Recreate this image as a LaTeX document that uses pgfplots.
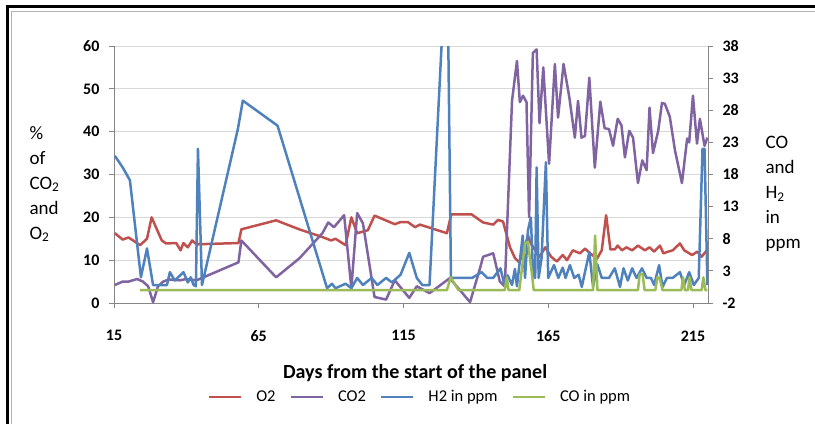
\documentclass[border=0pt]{standalone}
\usepackage{pgfplots}
\pgfplotsset{compat=1.18}
\usepackage{fontspec}
\setmainfont{Carlito}
\definecolor{cO}{HTML}{C0504D}
\definecolor{cC}{HTML}{8064A2}
\definecolor{cH}{HTML}{4F81BD}
\definecolor{cG}{HTML}{9BBB59}
\definecolor{axgray}{HTML}{868686}
\definecolor{grgray}{HTML}{D9D9D9}
\begin{document}
\begin{tikzpicture}
\path[use as bounding box] (0,0) rectangle (815pt,424pt);
\draw[black, line width=3pt] (7pt,0) -- (7pt,417.5pt) -- (815pt,417.5pt);
\draw[gray!60, line width=0.8pt] (11.5pt,0) -- (11.5pt,413pt) -- (815pt,413pt);
\pgfplotsset{
  every axis/.append style={
    scale only axis, width=594pt, height=257pt,
    at={(114pt,121pt)}, anchor=south west,
    xmin=15, xmax=220.2,
    tick align=outside, major tick length=5pt,
    tick style={draw=axgray, line width=0.8pt},
    axis line style={draw=axgray, line width=0.8pt},
    tick label style={font=\fontsize{16}{19}\selectfont\bfseries},
    label style={font=\fontsize{19}{25}\selectfont},
  }
}
\begin{axis}[
  axis x line*=bottom, axis y line*=left,
  ymin=0, ymax=60, ytick={0,10,...,60},
  yticklabels={0,10,20,30,40,50,60},
  xtick={15,65,115,165,215}, xticklabels={15,65,115,165,215},
  ymajorgrids, major grid style={draw=grgray, line width=1pt},
  xticklabel style={yshift=-19pt},
  yticklabel style={xshift=-6pt},
  xlabel={\bfseries Days from the start of the panel},
  xlabel style={font=\fontsize{20}{24}\selectfont, at={(axis description cs:0.507,-0.274)}, anchor=center},
  ylabel={\%\\of\\CO\textsubscript{2}\\and\\O\textsubscript{2}},
  ylabel style={rotate=-90, align=left, at={(axis description cs:-0.148,0.463)}, anchor=west},
  every axis plot/.append style={line width=2.5pt, line join=round},
]
\addplot[cO, mark=none] coordinates {
(15.3,16.3)(18,14.8)(20,15.3)(21.6,14.6)(24,13.5)(26.4,15)(28,20)(31.5,14.6)(33,13.9)(36.5,14)(38,12.3)(39,14)(40.5,13)(42,14.6)(43.5,13.7)(58,14.0)(59,17.2)(71,19.3)(79,17.2)(87,15.4)(90,14.6)(91.5,15)(95,13.5)(97,20)(99,16.3)(102.7,17)(105,20.4)(112,18.4)(114,18.9)(116.5,18.9)(119,17.7)(120.7,18.3)(130,16.3)(131.5,20.7)(138.5,20.7)(142.5,18.8)(146,18.3)(147.7,19.4)(149.4,19)(151.8,13)(153.5,10.5)(155,9.5)(156.5,12)(158,15.8)(159,13.9)(162,10.8)(164,13)(166,10.8)(168,9.7)(170,11.2)(171.5,10)(173.5,12.3)(176,11.6)(177.7,12.7)(179.5,11.6)(181.8,10.3)(183.5,12.3)(185,20.5)(186.5,12.5)(188,12.5)(189,13.4)(190.5,12.3)(192,13)(194,12.3)(196,13.4)(198.4,12.3)(200,13)(201.6,12)(203.6,13.4)(204.8,11.6)(206.5,12)(208,12.3)(210.5,13.9)(212,12.3)(214.7,11.2)(216.5,12)(218,10.8)(219.8,12.3)
};
\addplot[cC, mark=none] coordinates {
(15.3,4.2)(18,5)(20,5)(23,5.6)(25,5)(26.8,3.9)(28.5,0.2)(30.2,3.9)(32,5)(34,5.5)(37.8,5.3)(40,5.6)(43.5,5.3)(58,9.5)(59,14.6)(71,6)(79,10.4)(87,16.3)(89,18.8)(91,17.7)(94.5,20.5)(97,3.5)(99,21)(101,18.6)(105,1.4)(109,0.8)(112,5.3)(117,1.2)(119.6,3.9)(124,2.3)(131,5.8)(138,0.2)(141.4,8)(142.5,10.8)(146,11.6)(148.3,5)(150,3.9)(152.5,47.2)(154.2,56.5)(155.2,46.9)(156.3,48.4)(157.5,46.9)(158.4,20)(159.7,58.4)(161,59.2)(162,42)(163.3,55)(165.3,32.5)(167.3,55.8)(168.4,43.3)(170.3,55.8)(172.3,48)(174.2,38.6)(175.3,47.2)(176.5,38.6)(177.7,39)(179.2,52.6)(181.1,31.6)(183,47)(184.5,40.8)(186,40.6)(187.4,36.7)(189,43)(190.3,41.5)(191.5,34)(193,40.2)(194.3,38.6)(196,28)(197.5,33.3)(199,31)(200,45.6)(201.2,35)(203,40.2)(204.3,46.7)(205.3,46.5)(207,43.5)(208.8,35.6)(211.2,28)(213,38.4)(213.7,37.5)(215,48.4)(216.4,37.2)(217.4,43)(219,36.7)(220,38.6)
};
\end{axis}
\begin{axis}[
  axis y line*=right, axis x line=none,
  ymin=-2, ymax=38, ytick={-2,3,...,38},
  yticklabels={-2,3,8,13,18,23,28,33,38},
  yticklabel style={xshift=6pt},
  ylabel={CO\\and\\H\textsubscript{2}\\in\\ppm},
  ylabel style={rotate=-90, align=left, at={(axis description cs:1.091,0.424)}, anchor=west},
  every axis plot/.append style={line width=2.5pt, line join=round},
  legend style={draw=none, fill=none, at={(axis description cs:0.515,-0.366)}, anchor=center,
    font=\fontsize{16.5}{19}\selectfont, column sep=12pt},
  legend columns=4,
  legend image code/.code={\draw[#1, line width=2.5pt] (0pt,0pt) -- (32pt,0pt);},
]
\addlegendimage{cO}\addlegendentry{O2}
\addlegendimage{cC}\addlegendentry{CO2}
\addplot[cH, mark=none] coordinates {
(15.3,20.9)(18,19.1)(20.5,17.1)(24.3,2.0)(26.4,6.5)(28.5,0.8)(33.3,0.8)(34.3,2.8)(36,1.5)(39,2.8)(40.5,1.2)(41.5,2)(42.5,0.8)(43.3,0.6)(44,22)(45.4,0.8)(57.8,25.1)(59.5,29.5)(71.5,25.6)(88.6,0.3)(90.3,1)(91.5,0.3)(95,1)(97,0.3)(99,1.9)(101,0.8)(104,1.9)(106,0.8)(109,1.9)(111,1.2)(114,2.4)(117,5.8)(119.6,1.9)(121.5,0.8)(124,0.8)(128.6,42)(130.4,42)(131.4,1.9)(138.7,1.9)(142,2.8)(144,1.9)(146,1.9)(148.5,3.4)(150,0.6)(151,2.3)(152.5,0.8)(153.5,3.3)(154.2,0.6)(156.2,8.5)(157,1.9)(158,9.3)(159,11.3)(159.8,2.2)(160.5,1.9)(161,19.1)(161.7,1.9)(162.7,5)(164.2,19.9)(165,1.9)(167,3.9)(168.5,1.9)(170,3.5)(171,1.9)(172.5,3.9)(174,1.9)(175.5,2.4)(176.6,0.5)(177.5,2.4)(179.2,5.9)(180.5,0.5)(182,4)(183.5,1.9)(186,1.9)(188,3.4)(189.8,0.5)(191,3.4)(192.5,1.5)(194,3.4)(195.5,1.9)(197.4,3.4)(199,1.9)(200.5,1.9)(201.6,0.8)(203.3,3.9)(204.5,0.5)(206,1.9)(208,1.9)(210.5,2.8)(212,0.8)(213.7,2.8)(215.3,0.8)(217,1.9)(218.3,22)(219,22)(220,0.8)
};
\addlegendentry{H2 in ppm}
\addplot[cG, mark=none] coordinates {
(24,0)(130,0)(131.3,2)(134,0)(150,0)(150.7,2)(151.3,0)(155,0)(157,7.3)(158,7.5)(159.5,2)(160,0)(180.5,0)(181.2,8.5)(182,0)(196,0)(196.6,2.5)(197.6,2.5)(198.3,0)(202,0)(202.7,2)(203.5,1.9)(204.5,0)(211,0)(211.6,2)(212.2,0)(213.3,0)(213.8,2)(214.5,0)(218,0)(218.6,2)(219.3,0)(220,0)
};
\addlegendentry{CO in ppm}
\end{axis}
\end{tikzpicture}
\end{document}
